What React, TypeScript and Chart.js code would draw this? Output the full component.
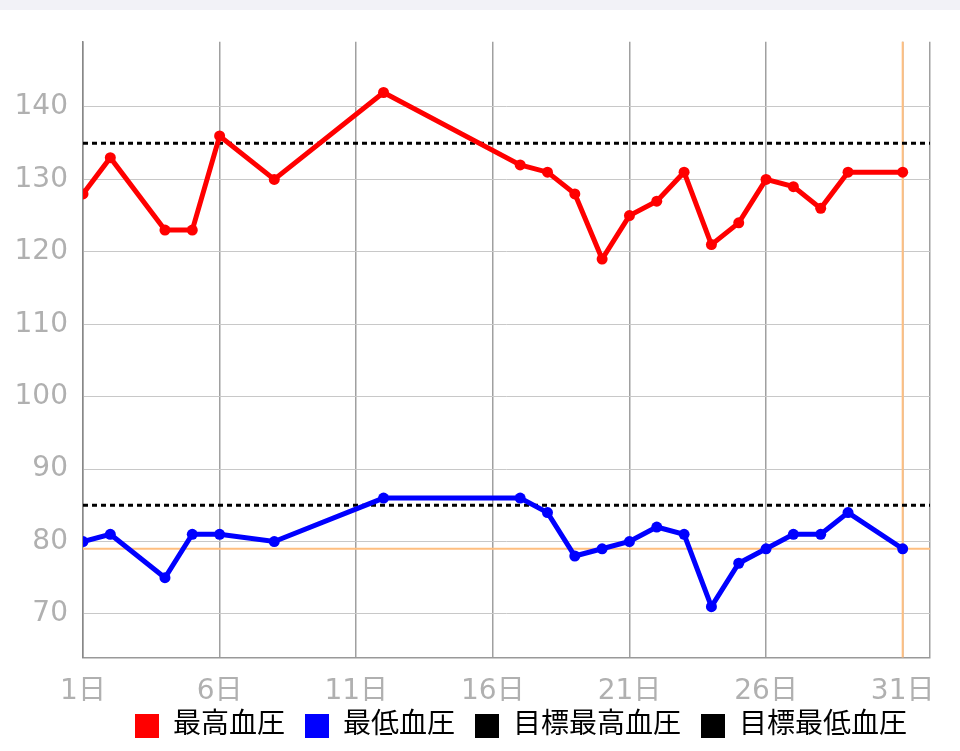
import React, { useEffect, useRef } from "react";
import { Chart, registerables } from "chart.js";

Chart.register(...registerables);

const days = [1, 2, 4, 5, 6, 8, 12, 17, 18, 19, 20, 21, 22, 23, 24, 25, 26, 27, 28, 29, 31];
const highBP = [128, 133, 123, 123, 136, 130, 142, 132, 131, 128, 119, 125, 127, 131, 121, 124, 130, 129, 126, 131, 131];
const lowBP = [80, 81, 75, 81, 81, 80, 86, 86, 84, 78, 79, 80, 82, 81, 71, 77, 79, 81, 81, 84, 79];
const targetHigh = 135;
const targetLow = 85;
const xMin = 1;
const xMax = 32;
const yMin = 64;
const yMax = 149;
const xTicks = [1, 6, 11, 16, 21, 26, 31, 32];
const yTicks = [70, 80, 90, 100, 110, 120, 130, 140];
const seriesLabels = ["最高血圧", "最低血圧", "目標最高血圧", "目標最低血圧"];
const seriesColors = ["#ff0000", "#0000ff", "#000000", "#000000"];

const FONT = "'DejaVu Sans', 'Noto Sans CJK JP', sans-serif";
const LEGEND_SHIFT = 35;

const crosshairPlugin = {
  id: "crosshair",
  beforeDatasetsDraw(chart: any) {
    const { ctx, chartArea, scales } = chart;
    const lastIdx = days.length - 1;
    const px = scales.x.getPixelForValue(days[lastIdx]);
    const py = scales.y.getPixelForValue(lowBP[lastIdx]);
    ctx.save();
    ctx.strokeStyle = "#ffbf80";
    ctx.lineWidth = 2;
    ctx.beginPath();
    ctx.moveTo(px, chartArea.top);
    ctx.lineTo(px, chartArea.bottom);
    ctx.moveTo(chartArea.left, py);
    ctx.lineTo(chartArea.right, py);
    ctx.stroke();
    ctx.restore();
  },
};

const legendShiftPlugin = {
  id: "legendShift",
  afterLayout(chart: any) {
    const lg = chart.legend;
    if (lg) {
      lg.top -= LEGEND_SHIFT;
      lg.height += LEGEND_SHIFT;
      lg.right -= 3;
    }
  },
};

export default function App() {
  const ref = useRef<HTMLCanvasElement | null>(null);
  useEffect(() => {
    if (!ref.current) return;
    const chart = new Chart(ref.current, {
      type: "line",
      data: {
        datasets: [
          {
            label: seriesLabels[0],
            data: days.map((d, i) => ({ x: d, y: highBP[i] })),
            borderColor: seriesColors[0],
            backgroundColor: seriesColors[0],
            borderWidth: 5,
            pointRadius: 5.5,
            pointBorderWidth: 0,
            tension: 0,
          },
          {
            label: seriesLabels[1],
            data: days.map((d, i) => ({ x: d, y: lowBP[i] })),
            borderColor: seriesColors[1],
            backgroundColor: seriesColors[1],
            borderWidth: 5,
            pointRadius: 5.5,
            pointBorderWidth: 0,
            tension: 0,
          },
          {
            label: seriesLabels[2],
            data: [
              { x: xMin, y: targetHigh },
              { x: xMax, y: targetHigh },
            ],
            borderColor: seriesColors[2],
            backgroundColor: seriesColors[2],
            borderWidth: 3,
            borderDash: [5, 4],
            pointRadius: 0,
          },
          {
            label: seriesLabels[3],
            data: [
              { x: xMin, y: targetLow },
              { x: xMax, y: targetLow },
            ],
            borderColor: seriesColors[3],
            backgroundColor: seriesColors[3],
            borderWidth: 3,
            borderDash: [5, 4],
            pointRadius: 0,
          },
        ],
      },
      options: {
        animation: false,
        responsive: true,
        maintainAspectRatio: false,
        layout: { padding: { top: 28, left: 0, right: 30, bottom: 0 } },
        scales: {
          x: {
            type: "linear",
            min: xMin,
            max: xMax,
            afterBuildTicks: (scale: any) => {
              scale.ticks = xTicks.map((v) => ({ value: v }));
            },
            ticks: {
              autoSkip: false,
              maxRotation: 0,
              padding: 18,
              color: "#b0b0b0",
              font: { family: FONT, size: 28 },
              callback: (v: any) => (v === xMax ? "" : v + "日"),
            },
            grid: {
              drawTicks: false,
              color: "#a0a0a0",
              lineWidth: 1.5,
            },
            border: { display: true, color: "#999999", width: 1.5 },
          },
          y: {
            type: "linear",
            min: yMin,
            max: yMax,
            afterBuildTicks: (scale: any) => {
              scale.ticks = yTicks.map((v) => ({ value: v }));
            },
            afterFit: (scale: any) => {
              scale.width = 83;
            },
            ticks: {
              padding: 15,
              color: "#b0b0b0",
              font: { family: FONT, size: 28 },
            },
            grid: {
              drawTicks: false,
              color: "#c8c8c8",
              lineWidth: 1,
            },
            border: { display: true, color: "#888888", width: 1.5 },
          },
        },
        plugins: {
          tooltip: { enabled: false },
          legend: {
            position: "bottom",
            align: "end",
            maxHeight: 24,
            labels: {
              boxWidth: 24,
              boxHeight: 24,
              padding: 20,
              color: "#000000",
              font: { family: FONT, size: 28 },
              generateLabels: (ch: any) =>
                ch.data.datasets.map((ds: any, i: number) => ({
                  text: ds.label,
                  fillStyle: seriesColors[i],
                  strokeStyle: seriesColors[i],
                  lineWidth: 0,
                  hidden: false,
                  datasetIndex: i,
                })),
            },
          },
        },
      },
      plugins: [crosshairPlugin, legendShiftPlugin],
    } as any);
    return () => chart.destroy();
  }, []);

  return (
    <div
      style={{
        position: "fixed",
        top: 0,
        left: 0,
        width: 960,
        height: 751,
        overflow: "hidden",
        background: "#ffffff",
      }}
    >
      <div style={{ height: 10, background: "#f2f2f7" }} />
      <div style={{ position: "relative", width: 960, height: 741 }}>
        <canvas ref={ref} />
      </div>
    </div>
  );
}
